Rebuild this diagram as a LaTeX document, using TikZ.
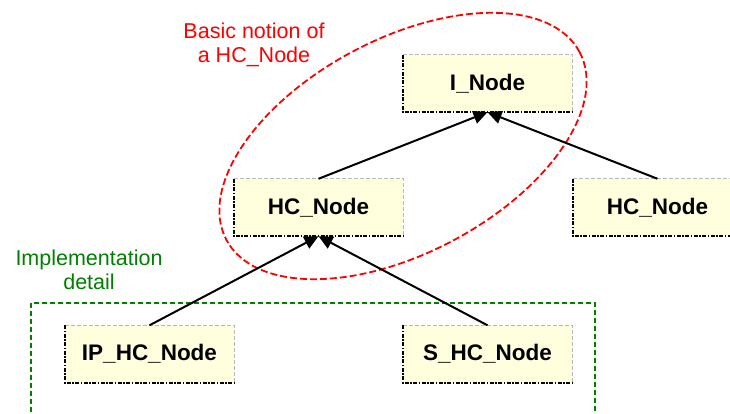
\documentclass[tikz,border=0pt]{standalone}
\usepackage{fontspec}
\setmainfont{Liberation Sans}
\usetikzlibrary{arrows.meta}
\definecolor{boxfill}{RGB}{255,255,221}
\definecolor{notered}{RGB}{255,0,0}
\definecolor{implgreen}{RGB}{0,128,0}
\definecolor{edgegray}{RGB}{185,185,185}

\begin{document}
\begin{tikzpicture}[x=1pt,y=1pt,
  classbox/.style={fill=boxfill, minimum width=169pt, minimum height=57pt, inner sep=0pt,
    font=\fontsize{22.5}{27}\selectfont\bfseries},
  lightedge/.style={draw=edgegray, line width=0.9pt, dash pattern=on 4pt off 2pt},
  darkedge/.style={draw=black, line width=1.9pt, dash pattern=on 4pt off 1.5pt on 1.5pt off 1.5pt},
  inherit/.style={draw=black, line width=2pt, -{Triangle[length=14pt,width=13pt]}},
  remark/.style={align=center, font=\fontsize{21.5}{24}\selectfont},
  scopering/.style={draw=notered, line width=1.8pt, dash pattern=on 7pt off 3pt},
  detailframe/.style={draw=implgreen, line width=1.6pt, dash pattern=on 5pt off 3pt}
]
\useasboundingbox (0,0) rectangle (730,-414);

% dashed ring round the basic notion
\draw[scopering, rotate around={28:(403,-146)}] (403,-146) ellipse [x radius=200pt, y radius=107pt];

% frame of the implementation detail
\draw[detailframe] (31,-420) -- (31,-303) -- (595,-303) -- (595,-420);

% class boxes
\node[classbox] (inode)  at (487.5,-83.5)  {I\_Node};
\node[classbox] (hcleft) at (318.5,-207.5) {HC\_Node};
\node[classbox] (hcright) at (657.5,-207.5) {HC\_Node};
\node[classbox] (iphc)   at (149.5,-354)   {IP\_HC\_Node};
\node[classbox] (shc)    at (487.5,-354)   {S\_HC\_Node};

% light top/right edges, dark dash-dot left/bottom edges
\foreach \n in {inode,hcleft,hcright,iphc,shc}{
  \draw[lightedge] (\n.north west) -- (\n.north east) -- (\n.south east);
  \draw[darkedge] (\n.north west) -- (\n.south west) -- (\n.south east);
}

% inheritance arrows
\draw[inherit] (hcleft.north) -- (inode.south);
\draw[inherit] (hcright.north) -- (inode.south);
\draw[inherit] (iphc.north) -- (hcleft.south);
\draw[inherit] (shc.north) -- (hcleft.south);

% annotations
\node[remark, text=notered] (notion) at (254,-45) {Basic notion of\\a HC\_Node};
\node[remark, text=implgreen] (impl) at (89,-270) {Implementation\\detail};
\end{tikzpicture}
\end{document}
